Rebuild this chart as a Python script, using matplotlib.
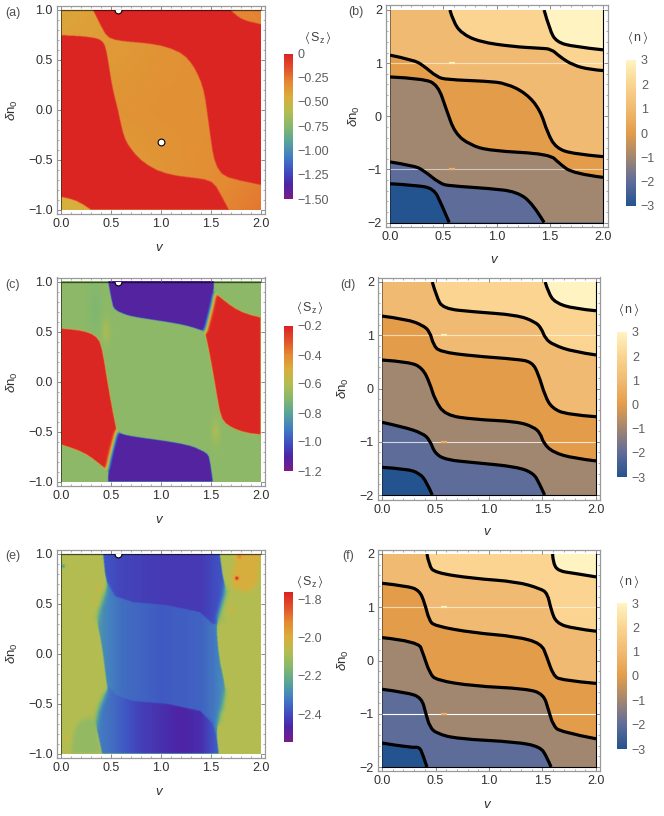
import numpy as np
import matplotlib
matplotlib.use('Agg')
import matplotlib.pyplot as plt
from matplotlib.colors import LinearSegmentedColormap, Normalize
from matplotlib.cm import ScalarMappable
from matplotlib.path import Path
from matplotlib.patches import PathPatch, Rectangle

plt.rcParams['font.family'] = ['Liberation Sans', 'DejaVu Sans']
plt.rcParams['mathtext.fontset'] = 'custom'
plt.rcParams['mathtext.rm'] = 'Liberation Sans'
plt.rcParams['mathtext.it'] = 'Liberation Sans:italic'
plt.rcParams['mathtext.fallback'] = 'stix'

W, H = 664, 816
FS = 9.0

# ---------- colour scales ----------
rainbow_stops = ['#781C86', '#4C25A6', '#3F52C3', '#4481C0', '#5AA596', '#86B86C',
                 '#B4BD50', '#D9AE3C', '#E48A33', '#E2502B', '#DB2222']
n_stops = [(0, '#23548F'), (1/6, '#5F6C9A'), (2/6, '#A18670'), (3/6, '#E39D4A'),
           (4/6, '#F1BA72'), (5/6, '#FAD48F'), (1, '#FFF3C2')]
rainbow = LinearSegmentedColormap.from_list('rb', rainbow_stops)
sunset = LinearSegmentedColormap.from_list('ns', n_stops)

# ---------- panel (a) Sz ----------
a_red1_x = [0, 0.15, 0.3, 0.39, 0.44, 0.47, 0.5, 0.53, 0.57, 0.6, 0.64, 0.7, 0.79, 0.96, 1.15, 1.35, 1.52, 1.59, 1.68]
a_red1_y = [0.75, 0.745, 0.73, 0.71, 0.66, 0.5, 0.3, 0.15, 0.0, -0.15, -0.3, -0.39, -0.5, -0.61, -0.66, -0.68, -0.71, -0.83, -1.0]
a_red2_x = [0.32, 0.37, 0.42, 0.47, 0.6, 0.8, 1.0, 1.2, 1.3, 1.37, 1.43, 1.46, 1.5, 1.53, 1.6, 1.75, 2.0]
a_red2_y = [1.0, 0.9, 0.8, 0.72, 0.69, 0.675, 0.65, 0.58, 0.48, 0.36, 0.2, 0.0, -0.3, -0.5, -0.65, -0.7, -0.75]
a_corner_bl_x = [0, 0.1, 0.2, 0.3]
a_corner_bl_y = [-0.87, -0.89, -0.93, -1.0]
a_corner_tr_x = [1.7, 1.76, 1.85, 2.0]
a_corner_tr_y = [1.0, 0.94, 0.89, 0.86]
a_bg_x = [0, 1, 2]
a_bg_y = [-1, 0, 1]
a_bg_vals = [[-0.47, -0.36, -0.25], [-0.36, -0.33, -0.34], [-0.42, -0.35, -0.28]]
a_red_val = -0.015
a_range = (-1.5, 0.0)
a_ticks = [0, -0.25, -0.5, -0.75, -1.0, -1.25, -1.5]
a_ticklabels = ['0', '\u22120.25', '\u22120.50', '\u22120.75', '\u22121.00', '\u22121.25', '\u22121.50']
a_dots_x = [1.0, 0.575]
a_dots_y = [-0.315, 1.0]

# ---------- panel (c) Sz ----------
c_redL_x = [0, 0.12, 0.25, 0.36, 0.41, 0.46, 0.52, 0.555, 0.555, 0.505, 0.455, 0.455, 0.38, 0.25, 0.1, 0]
c_redL_y = [0.53, 0.52, 0.5, 0.45, 0.35, 0.02, -0.31, -0.48, -0.48, -0.68, -0.88, -0.88, -0.82, -0.72, -0.66, -0.63]
c_purB_x = [0.47, 0.47, 0.51, 0.56, 0.56, 0.62, 0.8, 1.1, 1.3, 1.39, 1.47, 1.49, 1.52]
c_purB_y = [-1.0, -0.85, -0.68, -0.5, -0.5, -0.53, -0.56, -0.6, -0.64, -0.68, -0.72, -0.78, -1.0]
c_redR_x = [2, 1.88, 1.75, 1.64, 1.59, 1.54, 1.48, 1.445, 1.445, 1.495, 1.545, 1.545, 1.62, 1.75, 1.9, 2]
c_redR_y = [-0.53, -0.52, -0.48, -0.42, -0.33, -0.02, 0.31, 0.47, 0.47, 0.68, 0.88, 0.88, 0.82, 0.72, 0.66, 0.64]
c_purT_x = [1.53, 1.53, 1.49, 1.44, 1.44, 1.38, 1.22, 0.89, 0.7, 0.61, 0.53, 0.51, 0.47]
c_purT_y = [1.0, 0.85, 0.68, 0.5, 0.5, 0.52, 0.57, 0.62, 0.65, 0.68, 0.72, 0.78, 1.0]
c_green_val = -0.685
c_red_val = -0.215
c_pur_val = -1.115
c_spot_x = [0.45, 1.55, 0.34]
c_spot_y = [0.5, -0.5, 0.72]
c_spot_amp = [0.06, 0.06, -0.025]
c_spot_rx = [0.03, 0.03, 0.05]
c_spot_ry = [0.09, 0.09, 0.2]
c_range = (-1.2, -0.2)
c_ticks = [-0.2, -0.4, -0.6, -0.8, -1.0, -1.2]
c_ticklabels = ['\u22120.2', '\u22120.4', '\u22120.6', '\u22120.8', '\u22121.0', '\u22121.2']

# ---------- panel (e) Sz ----------
e_blue_x = [0.42, 0.44, 0.47, 0.42, 0.35, 0.39, 0.42, 0.46, 0.47, 0.39, 0.34, 0.38, 0.41, 0.41, 1.58, 1.58, 1.56, 1.56, 1.61, 1.66, 1.59, 1.56, 1.56, 1.66, 1.62, 1.59]
e_blue_y = [1.0, 0.76, 0.7, 0.55, 0.37, 0.18, 0.0, -0.34, -0.34, -0.5, -0.68, -0.85, -1.0, -1.0, -1.0, -1.0, -0.85, -0.73, -0.57, -0.37, -0.1, 0.18, 0.35, 0.62, 0.75, 1.0]
e_upS_x = [0.0, 0.46, 0.54, 0.72, 1.06, 1.39, 1.52, 2.0]
e_upS_y = [0.72, 0.72, 0.58, 0.52, 0.49, 0.42, 0.3, 0.3]
e_loS_x = [0.0, 0.47, 0.55, 0.72, 1.06, 1.39, 1.52, 1.56, 2.0]
e_loS_y = [-0.32, -0.32, -0.41, -0.47, -0.5, -0.57, -0.7, -0.85, -0.85]
e_top_px = [0.42, 0.6, 1.0, 1.4, 1.62]
e_top_val = [-2.38, -2.41, -2.43, -2.43, -2.38]
e_mid_px = [0.35, 0.45, 0.6, 1.0, 1.4, 1.55, 1.66]
e_mid_val = [-2.26, -2.30, -2.34, -2.375, -2.36, -2.32, -2.27]
e_bot_px = [0.34, 0.5, 0.8, 1.2, 1.4, 1.58]
e_bot_val = [-2.31, -2.34, -2.42, -2.47, -2.45, -2.36]
e_bg_val = -2.075
e_tr_x = [1.76, 1.72, 1.7, 1.74, 2.0, 2.0]
e_tr_y = [1.0, 0.85, 0.72, 0.64, 0.6, 1.0]
e_tr_val = -2.0
e_bl_x = [0.1, 0.12, 0.2, 0.3, 0.34, 0.34, 0.38, 0.4]
e_bl_y = [-1.0, -0.75, -0.66, -0.62, -0.68, -0.68, -0.85, -1.0]
e_bl_val = -2.13
e_spot_x = [1.76, 1.72, 0.02, 0.38, 0.35, 1.6, 1.56, 1.64, 0.05, 1.78, 1.66, 1.62]
e_spot_y = [0.76, 0.44, 0.88, 0.65, 0.52, -0.6, -0.74, -0.47, -0.84, 0.98, 0.62, 0.35]
e_spot_amp = [0.3, 0.09, -0.22, 0.1, 0.1, 0.14, 0.16, 0.1, 0.06, 0.1, -0.04, -0.04]
e_spot_r = [0.012, 0.014, 0.012, 0.015, 0.015, 0.014, 0.016, 0.014, 0.015, 0.018, 0.02, 0.02]
e_range = (-2.546, -1.76)
e_ticks = [-1.8, -2.0, -2.2, -2.4]
e_ticklabels = ['\u22121.8', '\u22122.0', '\u22122.2', '\u22122.4']

# ---------- panels (b), (d), (f): n contours, lowest curve first ----------
b_curves = [
    ([0, 0.25, 0.41, 0.48, 0.556], [-1.27, -1.3, -1.36, -1.64, -2]),
    ([0, 0.22, 0.31, 0.47, 0.56, 0.94, 1.19, 1.34, 1.447], [-0.86, -0.93, -1.01, -1.27, -1.31, -1.36, -1.42, -1.64, -2]),
    ([0, 0.31, 0.45, 0.53, 0.61, 0.75, 0.94, 1.5, 1.59, 1.72, 2], [0.74, 0.71, 0.59, 0.12, -0.32, -0.54, -0.65, -0.71, -0.89, -1.08, -1.15]),
    ([0, 0.22, 0.31, 0.44, 0.53, 0.906, 1.09, 1.28, 1.41, 1.48, 1.56, 1.72, 2], [1.15, 1.06, 0.96, 0.74, 0.69, 0.66, 0.62, 0.43, 0.12, -0.32, -0.6, -0.71, -0.76]),
    ([0.5625, 0.594, 0.672, 0.84, 1.156, 1.41, 1.516, 1.594, 1.72, 1.875, 2], [2, 1.78, 1.56, 1.4, 1.31, 1.28, 1.265, 1.12, 0.96, 0.88, 0.86]),
    ([1.447, 1.5, 1.5625, 1.72, 2], [2, 1.62, 1.4, 1.31, 1.25]),
]
d_curves = [
    ([0, 0.23, 0.35, 0.416, 0.47], [-1.48, -1.51, -1.59, -1.75, -2]),
    ([0, 0.197, 0.38, 0.447, 0.494, 0.6, 0.853, 1.26, 1.416, 1.47, 1.52], [-0.635, -0.72, -0.84, -0.97, -1.22, -1.34, -1.39, -1.47, -1.59, -1.78, -2]),
    ([0, 0.26, 0.38, 0.447, 0.494, 0.59, 0.853, 1.26, 1.416, 1.48, 1.51, 1.6, 1.79, 2], [0.535, 0.5, 0.38, 0.1, -0.21, -0.5, -0.58, -0.62, -0.72, -0.84, -1.03, -1.2, -1.31, -1.36]),
    ([0, 0.23, 0.38, 0.447, 0.48, 0.54, 0.853, 1.26, 1.4, 1.46, 1.525, 1.59, 1.73, 2], [1.36, 1.3, 1.19, 1.07, 0.82, 0.69, 0.61, 0.55, 0.5, 0.285, -0.15, -0.37, -0.49, -0.53]),
    ([0.47, 0.51, 0.57, 0.853, 1.26, 1.43, 1.49, 1.525, 1.6, 1.79, 2], [2, 1.72, 1.5, 1.44, 1.38, 1.255, 1.13, 0.94, 0.82, 0.69, 0.63]),
    ([1.525, 1.556, 1.62, 1.79, 2], [2, 1.79, 1.61, 1.5, 1.46]),
]
f_curves = [
    ([0, 0.275, 0.35, 0.384, 0.42], [-1.55, -1.64, -1.62, -1.78, -2]),
    ([0, 0.23, 0.37, 0.41, 0.447, 0.51, 0.7, 1.26, 1.48, 1.54, 1.58], [-0.54, -0.6, -0.695, -1, -1.25, -1.37, -1.47, -1.53, -1.62, -1.81, -2]),
    ([0, 0.34, 0.384, 0.447, 0.51, 0.853, 1.35, 1.51, 1.556, 1.6, 1.666, 2], [0.43, 0.36, 0.13, -0.245, -0.37, -0.48, -0.53, -0.63, -0.93, -1.22, -1.34, -1.47]),
    ([0, 0.23, 0.35, 0.4, 0.44, 0.49, 0.853, 1.26, 1.49, 1.54, 1.6, 1.67, 2], [1.45, 1.4, 1.32, 1.07, 0.76, 0.65, 0.52, 0.45, 0.32, 0.07, -0.275, -0.37, -0.43]),
    ([0.42, 0.44, 0.49, 0.853, 1.26, 1.48, 1.547, 1.58, 1.63, 1.79, 2], [2, 1.79, 1.65, 1.54, 1.48, 1.35, 1.26, 0.95, 0.7, 0.6, 0.55]),
    ([1.594, 1.6, 1.65, 1.79, 2], [2, 1.82, 1.68, 1.64, 1.57]),
]
n_levels = [-3, -2, -1, 0, 1, 2, 3]
n_range = (-3, 3)
n_ticks = [3, 2, 1, 0, -1, -2, -3]
n_ticklabels = ['3', '2', '1', '0', '\u22121', '\u22122', '\u22123']
n_line_alpha = {'b': (0.55, 0.55), 'd': (0.6, 0.75), 'f': (0.6, 1.0)}
blip_x = [0.55, 0.61]
blip_levels = {1.0: 2.9, -1.0: 0.6}

# ---------- layout (pixels) ----------
panels = {
    'a': dict(frame=(56.7, 265, 6, 214), data=(61, 261, 10, 210), bar=(283.5, 293, 53.5, 199),
              tag=(13, 13), yl=(12, 110), xl=(160, 248), title=(318, 37)),
    'b': dict(frame=(386, 607.5, 5, 227), data=(390, 603, 10, 222.5), bar=(626, 636, 60, 206),
              tag=(356, 12), yl=(354, 116), xl=(495, 260), title=(638, 38)),
    'c': dict(frame=(56.7, 265, 277.5, 486), data=(61, 261, 281.7, 482), bar=(283.5, 293, 326, 471),
              tag=(13, 285), yl=(12, 382), xl=(160, 520), title=(310, 308)),
    'd': dict(frame=(378, 600, 277.5, 499.5), data=(382, 596, 282, 495), bar=(617, 627, 332, 477),
              tag=(348, 285), yl=(343, 388), xl=(488, 532), title=(629, 309)),
    'e': dict(frame=(56.7, 265, 549.5, 758), data=(61, 261, 554, 754), bar=(283.5, 293, 592, 742),
              tag=(13, 556), yl=(12, 653), xl=(160, 792), title=(310, 581)),
    'f': dict(frame=(378, 600, 549.5, 771), data=(382, 596, 554, 767), bar=(617, 627, 603, 749),
              tag=(348, 556), yl=(343, 660), xl=(488, 805), title=(629, 582)),
}

fig = plt.figure(figsize=(W / 100, H / 100), dpi=100, facecolor='white')


def add_px_axes(l, r, t, b):
    return fig.add_axes([l / W, 1 - b / H, (r - l) / W, (b - t) / H])


def fig_text(x, y, s, **kw):
    fig.text(x / W, 1 - y / H, s, ha=kw.pop('ha', 'center'), va=kw.pop('va', 'center'), **kw)


def smooth_open(xs, ys):
    """Path that follows the listed points, rounded with matplotlib's quadratic curves."""
    v = [(xs[0], ys[0])]
    c = [Path.MOVETO]
    for i in range(1, len(xs) - 1):
        v.append((xs[i], ys[i]))
        c.append(Path.CURVE3)
        if i < len(xs) - 2:
            v.append(((xs[i] + xs[i + 1]) / 2, (ys[i] + ys[i + 1]) / 2))
        else:
            v.append((xs[-1], ys[-1]))
        c.append(Path.CURVE3)
    if len(xs) == 2:
        v.append((xs[1], ys[1]))
        c.append(Path.LINETO)
    return v, c


def closed_path(xs, ys, corners=()):
    v, c = smooth_open(xs, ys)
    for p in corners:
        v.append(p)
        c.append(Path.LINETO)
    v.append(v[0])
    c.append(Path.CLOSEPOLY)
    return Path(v, c)


xg = np.linspace(0, 2, 500)
yg = np.linspace(-1, 1, 500)
XX, YY = np.meshgrid(xg, yg)
GRID = np.column_stack([XX.ravel(), YY.ravel()])


def mask_of(xs, ys, corners=()):
    poly = closed_path(xs, ys, corners).to_polygons()[0]
    return Path(poly).contains_points(GRID).reshape(XX.shape)


def blur(Z, sigma):
    r = int(3 * sigma) + 1
    k = np.exp(-0.5 * (np.arange(-r, r + 1) / sigma) ** 2)
    k /= k.sum()
    P = np.pad(Z, r, mode='edge')
    P = np.apply_along_axis(lambda m: np.convolve(m, k, 'same'), 0, P)
    P = np.apply_along_axis(lambda m: np.convolve(m, k, 'same'), 1, P)
    return P[r:-r, r:-r]


def style_axes(ax, ykind):
    for s in ax.spines.values():
        s.set_color('#9a9a9a')
        s.set_linewidth(0.9)
    ax.set_xticks([0, 0.5, 1.0, 1.5, 2.0])
    ax.set_xticklabels(['0.0', '0.5', '1.0', '1.5', '2.0'])
    ax.set_xticks(np.arange(0, 2.01, 0.1), minor=True)
    if ykind == 'S':
        ax.set_yticks([-1, -0.5, 0, 0.5, 1])
        ax.set_yticklabels(['\u22121.0', '\u22120.5', '0.0', '0.5', '1.0'])
        ax.set_yticks(np.arange(-1, 1.01, 0.1), minor=True)
    else:
        ax.set_yticks([-2, -1, 0, 1, 2])
        ax.set_yticklabels(['\u22122', '\u22121', '0', '1', '2'])
        ax.set_yticks(np.arange(-2, 2.01, 0.2), minor=True)
    ax.tick_params(which='major', direction='in', top=True, right=True, length=3.2, width=0.6,
                   color='#777777', labelsize=FS, labelcolor='#303030', pad=3)
    ax.tick_params(which='minor', direction='in', top=True, right=True, length=1.7, width=0.5, color='#888888')


def setup_panel(key, ylo, yhi, ykind):
    p = panels[key]
    fl, fr, ft, fb = p['frame']
    dl, dr, dt, db = p['data']
    ax = add_px_axes(fl, fr, ft, fb)
    sx = 2.0 / (dr - dl)
    sy = (yhi - ylo) / (db - dt)
    ax.set_xlim(0 - (dl - fl) * sx, 2 + (fr - dr) * sx)
    ax.set_ylim(ylo - (fb - db) * sy, yhi + (dt - ft) * sy)
    style_axes(ax, ykind)
    fig_text(*p['tag'], f'({key})', fontsize=FS, color='#505050')
    fig_text(*p['yl'], '$\\delta$n$_0$', fontsize=FS + 0.5, color='#303030', rotation=90)
    fig_text(*p['xl'], '$\\mathit{v}$', fontsize=FS + 0.5, color='#303030')
    return ax


def colorbar(key, cmap, vr, ticks, labels, title):
    l, r, t, b = panels[key]['bar']
    cax = add_px_axes(l, r, t, b)
    cb = fig.colorbar(ScalarMappable(Normalize(*vr), cmap), cax=cax)
    cb.set_ticks(ticks)
    cb.set_ticklabels(labels)
    cb.outline.set_visible(False)
    cax.tick_params(length=0, labelsize=FS, labelcolor='#5e5e5e', pad=3.5)
    fig_text(*panels[key]['title'], title, fontsize=FS, color='#404040')


def show_sz(ax, Z, vr, dots_x, dots_y):
    ax.imshow(Z, origin='lower', extent=(0, 2, -1, 1), cmap=rainbow, vmin=vr[0], vmax=vr[1],
              aspect='auto', interpolation='bilinear', zorder=1)
    ax.plot([0, 2], [1, 1], color='black', alpha=0.6, lw=0.9, zorder=2, solid_capstyle='butt')
    ax.plot([0, 0], [-1, 1], color='black', alpha=0.55, lw=0.7, zorder=2, solid_capstyle='butt')
    clip = Rectangle((0, -1), 2, 2, transform=ax.transData)
    sc = ax.scatter(dots_x, dots_y, s=24, c='white', edgecolors='black', linewidths=0.8, zorder=3)
    sc.set_clip_path(clip)


SZ_TITLE = '$\\langle\\,\\mathrm{S}_{\\mathrm{z}}\\,\\rangle$'
N_TITLE = '$\\langle\\,\\mathrm{n}\\,\\rangle$'

# ----- (a) -----
ax = setup_panel('a', -1, 1, 'S')
M = np.array([np.interp(xg, a_bg_x, row) for row in a_bg_vals])
Z = np.column_stack([np.interp(yg, a_bg_y, M[:, j]) for j in range(len(xg))])
red = mask_of(a_red1_x, a_red1_y, [(0, -1)]) & ~mask_of(a_corner_bl_x, a_corner_bl_y, [(0, -1)])
red |= mask_of(a_red2_x, a_red2_y, [(2, 1)]) & ~mask_of(a_corner_tr_x, a_corner_tr_y, [(2, 1)])
Z[red] = a_red_val
show_sz(ax, blur(Z, 0.8), a_range, a_dots_x, a_dots_y)
colorbar('a', rainbow, a_range, a_ticks, a_ticklabels, SZ_TITLE)

# ----- (c) -----
ax = setup_panel('c', -1, 1, 'S')
Z = np.full(XX.shape, c_green_val, dtype=float)
for sx_, sy_, am, rx, ry in zip(c_spot_x, c_spot_y, c_spot_amp, c_spot_rx, c_spot_ry):
    Z += am * np.exp(-0.5 * (((XX - sx_) / rx) ** 2 + ((YY - sy_) / ry) ** 2))
red = mask_of(c_redL_x, c_redL_y) | mask_of(c_redR_x, c_redR_y)
pur = mask_of(c_purB_x, c_purB_y) | mask_of(c_purT_x, c_purT_y)
Z[red] = c_red_val
Z[pur] = c_pur_val
soft = blur(Z, 5.0)
wn = blur(((blur(red.astype(float), 5) > 0.03) & (blur(pur.astype(float), 5) > 0.03)).astype(float), 2)
Zc = blur(Z, 0.8) * (1 - wn) + soft * wn
show_sz(ax, Zc, c_range, a_dots_x[1:], a_dots_y[1:])
colorbar('c', rainbow, c_range, c_ticks, c_ticklabels, SZ_TITLE)

# ----- (e) -----
ax = setup_panel('e', -1, 1, 'S')
Z = np.full(XX.shape, e_bg_val, dtype=float)
Z[mask_of(e_tr_x, e_tr_y)] = e_tr_val
Z[mask_of(e_bl_x, e_bl_y)] = e_bl_val
Z = blur(Z, 5)
for sx_, sy_, am, r_ in zip(e_spot_x, e_spot_y, e_spot_amp, e_spot_r):
    Z += am * np.exp(-0.5 * ((XX - sx_) ** 2 + (YY - sy_) ** 2) / r_ ** 2)
blue = mask_of(e_blue_x, e_blue_y)
upS = np.interp(xg, e_upS_x, e_upS_y)[None, :]
loS = np.interp(xg, e_loS_x, e_loS_y)[None, :]
band = np.where(YY > upS, np.interp(XX, e_top_px, e_top_val),
                np.where(YY > loS, np.interp(XX, e_mid_px, e_mid_val), np.interp(XX, e_bot_px, e_bot_val)))
Z[blue] = band[blue]
Ze = blur(Z, 1.0)
soft = blur(Z, 6)
side = (np.abs(XX - 1) > 0.5) & (np.abs(XX - 1) < 0.72) & (((YY > 0.32) & (YY < 0.68)) | ((YY < -0.36) & (YY > -0.72)))
wn = blur(side.astype(float), 10)
Ze = Ze * (1 - wn) + soft * wn
show_sz(ax, Ze, e_range, a_dots_x[1:], a_dots_y[1:])
colorbar('e', rainbow, e_range, e_ticks, e_ticklabels, SZ_TITLE)

# ----- (b), (d), (f) -----
n_norm = Normalize(*n_range)
for key, curves in zip('bdf', (b_curves, d_curves, f_curves)):
    ax = setup_panel(key, -2, 2, 'n')
    clip = Rectangle((0, -2), 2, 4, transform=ax.transData)
    ax.add_patch(Rectangle((0, -2), 2, 4, fc=sunset(n_norm(n_levels[0])), ec='none', zorder=1))
    for i, (cx, cy) in enumerate(curves):
        corners = []
        if cy[-1] == -2:
            corners.append((2, -2))
        corners.append((2, 2))
        if cx[0] == 0:
            corners.append((0, 2))
        pp = PathPatch(closed_path(cx, cy, corners), fc=sunset(n_norm(n_levels[i + 1])), ec='none', zorder=1 + i * 0.01)
        ax.add_patch(pp)
    for yv, al in zip((1.0, -1.0), n_line_alpha[key]):
        ax.plot([0, 2], [yv, yv], color='white', alpha=al, lw=0.8, zorder=2)
        ax.plot(blip_x, [yv, yv], color=sunset(n_norm(blip_levels[yv])), lw=1.6, zorder=2.1, solid_capstyle='butt')
    for cx, cy in curves:
        v, c = smooth_open(cx, cy)
        lp = PathPatch(Path(v, c), fc='none', ec='black', lw=2.3, zorder=3, capstyle='butt', joinstyle='round')
        ax.add_patch(lp)
        lp.set_clip_path(clip)
    ax.plot([2, 2], [-2, 2], color='black', lw=0.8, zorder=3.1)
    ax.plot([0, 2], [-2, -2], color='black', lw=0.8, zorder=3.1)
    ax.plot([0, 0], [-2, 2], color='black', lw=0.6, alpha=0.5, zorder=3.1)
    colorbar(key, sunset, n_range, n_ticks, n_ticklabels, N_TITLE)

fig.savefig('out.png', dpi=100, facecolor='white')
